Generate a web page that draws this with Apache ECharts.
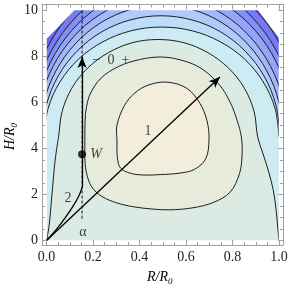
<!DOCTYPE html>
<html><head><meta charset="utf-8">
<script src="https://cdn.jsdelivr.net/npm/echarts@6/dist/echarts.min.js"></script>
<style>html,body{margin:0;padding:0;background:#fff}#c{width:291px;height:297px}</style>
</head><body><div id="c"></div>
<script>
// ---------- data ----------
const xMajorTicks = [0, 0.2, 0.4, 0.6, 0.8, 1.0];
const xMinorTicks = [0.05,0.1,0.15,0.25,0.3,0.35,0.45,0.5,0.55,0.65,0.7,0.75,0.85,0.9,0.95];
const yMajorTicks = [0, 2, 4, 6, 8, 10];
const yMinorTicks = [0.5,1,1.5,2.5,3,3.5,4.5,5,5.5,6.5,7,7.5,8.5,9,9.5];

// contour lines, innermost (highest) first, as [R/R0, H/R0]
const contour1 = [[0.303,5.0],[0.303,4.35],[0.305,3.6],[0.318,3.15],[0.36,2.92],[0.42,2.84],[0.49,2.86],[0.57,2.92],[0.635,3.08],[0.685,3.55],[0.699,4.4],[0.69,5.2],[0.66,5.95],[0.604,6.6],[0.52,6.87],[0.44,6.75],[0.38,6.4],[0.335,5.85]];
const contour2 = [[0.166,5.22],[0.165,4.3],[0.166,3.35],[0.178,2.7],[0.2,2.25],[0.24,1.9],[0.3,1.64],[0.37,1.47],[0.45,1.37],[0.53,1.33],[0.63,1.42],[0.72,1.66],[0.79,2.1],[0.83,2.9],[0.841,3.7],[0.838,4.5],[0.82,5.2],[0.79,6.0],[0.74,6.8],[0.66,7.5],[0.57,7.85],[0.49,7.96],[0.40,7.85],[0.31,7.55],[0.235,7.05],[0.19,6.4],[0.172,5.8]];
const contour3 = [[0,0],[0.006,0.3],[0.013,0.8],[0.02,1.6],[0.027,2.4],[0.035,3.3],[0.044,4.0],[0.052,4.5],[0.067,5.59],[0.109,6.61],[0.177,7.48],[0.266,8.15],[0.369,8.58],[0.48,8.72],[0.591,8.58],[0.694,8.15],[0.783,7.48],[0.851,6.61],[0.893,5.59],[0.908,4.5],[0.93,3.8],[0.955,3.0],[0.975,2.2],[0.988,1.3],[0.995,0.5],[1.0,0]];
const contour4 = [[-0.010,4.5],[0.007,5.73],[0.058,6.88],[0.138,7.87],[0.2425,8.62],[0.364,9.10],[0.495,9.26],[0.626,9.10],[0.7475,8.62],[0.852,7.87],[0.932,6.88],[0.983,5.73],[1.0,4.5]];
const contour5 = [[-0.019,4.5],[-0.001,5.86],[0.050,7.13],[0.131,8.21],[0.237,9.05],[0.3605,9.57],[0.493,9.75],[0.6255,9.57],[0.749,9.05],[0.855,8.21],[0.936,7.13],[0.987,5.86],[1.0045,4.5]];
const contour6 = [[-0.030,4.5],[-0.012,5.98],[0.040,7.35],[0.1235,8.53],[0.232,9.44],[0.358,10.01],[0.494,10.2],[0.630,10.01],[0.756,9.44],[0.8645,8.53],[0.948,7.35],[1.0,5.98],[1.018,4.5]];
const contour7 = [[-0.044,4.5],[-0.026,6.08],[0.028,7.55],[0.114,8.81],[0.226,9.78],[0.356,10.39],[0.496,10.6],[0.636,10.39],[0.766,9.78],[0.878,8.81],[0.964,7.55],[1.018,6.08],[1.036,4.5]];
const contour8 = [[-0.057,4.5],[-0.038,6.18],[0.018,7.75],[0.107,9.10],[0.223,10.13],[0.358,10.78],[0.503,11.0],[0.648,10.78],[0.783,10.13],[0.899,9.10],[0.988,7.75],[1.044,6.18],[1.063,4.5]];
const contour9 = [[-0.070,4.5],[-0.050,6.29],[0.007,7.95],[0.0985,9.38],[0.2175,10.48],[0.356,11.17],[0.505,11.4],[0.654,11.17],[0.7925,10.48],[0.9115,9.38],[1.003,7.95],[1.06,6.29],[1.08,4.5]];
const contour10 = [[-0.087,4.5],[-0.067,6.39],[-0.007,8.15],[0.087,9.66],[0.2105,10.82],[0.354,11.55],[0.508,11.8],[0.662,11.55],[0.8055,10.82],[0.929,9.66],[1.023,8.15],[1.083,6.39],[1.103,4.5]];
const contour11 = [[-0.104,4.5],[-0.083,6.49],[-0.022,8.35],[0.0756,9.94],[0.2025,11.17],[0.350,11.94],[0.509,12.2],[0.668,11.94],[0.8155,11.17],[0.942,9.94],[1.04,8.35],[1.10,6.49],[1.122,4.5]];

// plotted domain and its two clipped (empty) top corners
const domainBox = [[0,0],[1,0],[1,10],[0,10]];
const clipTopLeft = [[0,8.75],[0,10],[0.12,10]];
const clipTopRight = [[0.91,10],[1,10],[1,8.8]];

// annotations
const arrow1 = [[0,0],[0.746,7.09]];
const path2 = [[0,0],[0.04,0.45],[0.08,0.98],[0.115,1.5],[0.14,1.95],[0.153,2.3]];
const arrow2 = [[0.153,2.3],[0.153,7.96]];
const alphaLine = [[0.153,0.95],[0.153,10]];
const pointW = [0.153,3.74];
const labelTexts = ['1','2','W','\u03b1','\u2212\u20020\u2002+'];
const labelPos = [[0.437,4.75],[0.092,1.84],[0.213,3.75],[0.157,0.37],[0.277,7.83]];

// ---------- styling ----------
const bandColors = ['#f3eedb','#e6ebdc','#dbebe3','#cdebf3','#bfdcf8','#b0cafb','#a2b8fb','#93a4fa','#8590f7','#767af4','#6664f1','#564ef0'];
const frameColor = '#a0a0a0';
const serif = '"Liberation Serif", "DejaVu Serif", serif';

const openArcs = [contour4,contour5,contour6,contour7,contour8,contour9,contour10,contour11];
const fills = [];
fills.push({pts: domainBox, color: bandColors[11], smooth: 0});
for (let k = openArcs.length - 1; k >= 0; k--) {
  const a = openArcs[k];
  fills.push({pts: a.concat([[a[a.length-1][0], -1.5],[a[0][0], -1.5]]), color: bandColors[k+3], smooth: 0.35});
}
fills.push({pts: contour3.concat([[1.0,-1.5],[0,-1.5]]), color: bandColors[2], smooth: 0.35});
fills.push({pts: contour2, color: bandColors[1], smooth: 0.35});
fills.push({pts: contour1, color: bandColors[0], smooth: 0.35});

const lines = [
  {pts: contour1, closed: true}, {pts: contour2, closed: true}, {pts: contour3, closed: false}
].concat(openArcs.map(a => ({pts: a, closed: false})));

const masks = [
  [[-0.2,-2],[0,-2],[0,13],[-0.2,13]],
  [[1,-2],[1.2,-2],[1.2,13],[1,13]],
  [[-0.2,-2],[1.2,-2],[1.2,0],[-0.2,0]],
  [[-0.2,10],[1.2,10],[1.2,13],[-0.2,13]],
  clipTopLeft, clipTopRight
];

function px(api, pts) { return pts.map(p => api.coord(p)); }

const xr = {min: -0.0194, max: 1.0172};
const yr = {min: -0.195, max: 10.239};
function mkX(pos, major) {
  return {type:'value', gridIndex:0, position: pos, min: xr.min, max: xr.max, z: 10,
    splitLine:{show:false},
    axisLine:{show: major, onZero:false, lineStyle:{color: frameColor, width:1}},
    axisTick:{show:true, inside:true, length: major?5:3, customValues: major?xMajorTicks:xMinorTicks, lineStyle:{color: frameColor, width:1}},
    axisLabel:{show: major && pos==='bottom', customValues: xMajorTicks, formatter: v => v.toFixed(1), fontFamily: serif, fontSize: 14, color:'#222', margin: 5}
  };
}
function mkY(pos, major) {
  return {type:'value', gridIndex:0, position: pos, min: yr.min, max: yr.max, z: 10,
    splitLine:{show:false},
    axisLine:{show: major, onZero:false, lineStyle:{color: frameColor, width:1}},
    axisTick:{show:true, inside:true, length: major?5:3, customValues: major?yMajorTicks:yMinorTicks, lineStyle:{color: frameColor, width:1}},
    axisLabel:{show: major && pos==='left', customValues: yMajorTicks, formatter: v => String(v), fontFamily: serif, fontSize: 14, color:'#222', margin: 4}
  };
}

const labelStyles = ['normal','normal','italic','normal','normal'];
const nameRich = {
  a: {fontFamily: serif, fontStyle:'italic', fontSize: 14, lineHeight: 18, verticalAlign:'middle', color:'#222'},
  b: {fontFamily: serif, fontStyle:'italic', fontSize: 9, lineHeight: 18, verticalAlign:'bottom', color:'#222'}
};

const option = {
  animation: false,
  grid: {left: 42, right: 8, top: 4.5, bottom: 52, containLabel: false, outerBoundsMode: 'none'},
  xAxis: [mkX('bottom', true), mkX('bottom', false), mkX('top', true), mkX('top', false)],
  yAxis: [mkY('left', true), mkY('left', false), mkY('right', true), mkY('right', false)],
  series: [
    {type:'custom', name:'bands', z:1, silent:true, clip:true, xAxisIndex:0, yAxisIndex:0,
     data: fills.map((f,i)=>[i,i]),
     renderItem: (params, api) => {
       const f = fills[params.dataIndex];
       return {type:'polygon', shape:{points: px(api, f.pts), smooth: f.smooth}, style:{fill: f.color, stroke: f.color, lineWidth: 0.5}};
     }},
    {type:'custom', name:'contours', z:2, silent:true, clip:true,
     data: lines.map((l,i)=>[i,i]),
     renderItem: (params, api) => {
       const l = lines[params.dataIndex];
       return {type: l.closed ? 'polygon' : 'polyline', shape:{points: px(api, l.pts), smooth: 0.35}, style:{fill: 'none', stroke:'#1e1e1e', lineWidth: 1}};
     }},
    {type:'custom', name:'mask', z:3, silent:true, clip:true,
     data: masks.map((m,i)=>[i,i]),
     renderItem: (params, api) => ({type:'polygon', shape:{points: px(api, masks[params.dataIndex])}, style:{fill:'#ffffff', stroke:'#ffffff', lineWidth: 0.5}})
    },
    {type:'line', name:'alpha', z:4, silent:true, data: alphaLine, symbol:'none',
     lineStyle:{color:'#111', width:1, type:[3,2]}},
    {type:'line', name:'paths', z:5, silent:true, data: path2, symbol:'none', smooth: 0.4,
     lineStyle:{color:'#000', width:1.3},
     markLine:{silent:true, symbol:['none','arrow'], symbolSize:[7,11], label:{show:false},
       lineStyle:{color:'#000', width:1.3, type:'solid'}, emphasis:{disabled:true},
       data:[[{coord: arrow1[0]},{coord: arrow1[1]}],[{coord: arrow2[0]},{coord: arrow2[1]}]]}},
    {type:'scatter', name:'W', z:6, silent:true, data:[pointW], symbolSize:8, itemStyle:{color:'#000'}},
    {type:'scatter', name:'labels', z:7, silent:true, symbolSize:0,
     data: labelTexts.map((t,i)=>({value: labelPos[i], name: t,
       label:{show:true, position:'inside', formatter:'{b}', fontFamily: serif, fontSize: 14, color:'#111', fontStyle: labelStyles[i]}}))}
  ],
  graphic: [
    {type:'text', x:147, y:268, style:{text:'{a|R/R}{b|0}', rich: nameRich}},
    {type:'text', x:1, y:150, rotation: Math.PI/2, style:{text:'{a|H/R}{b|0}', rich: nameRich}}
  ]
};
const chart = echarts.init(document.getElementById('c'));
chart.setOption(option);
</script>
</body></html>
